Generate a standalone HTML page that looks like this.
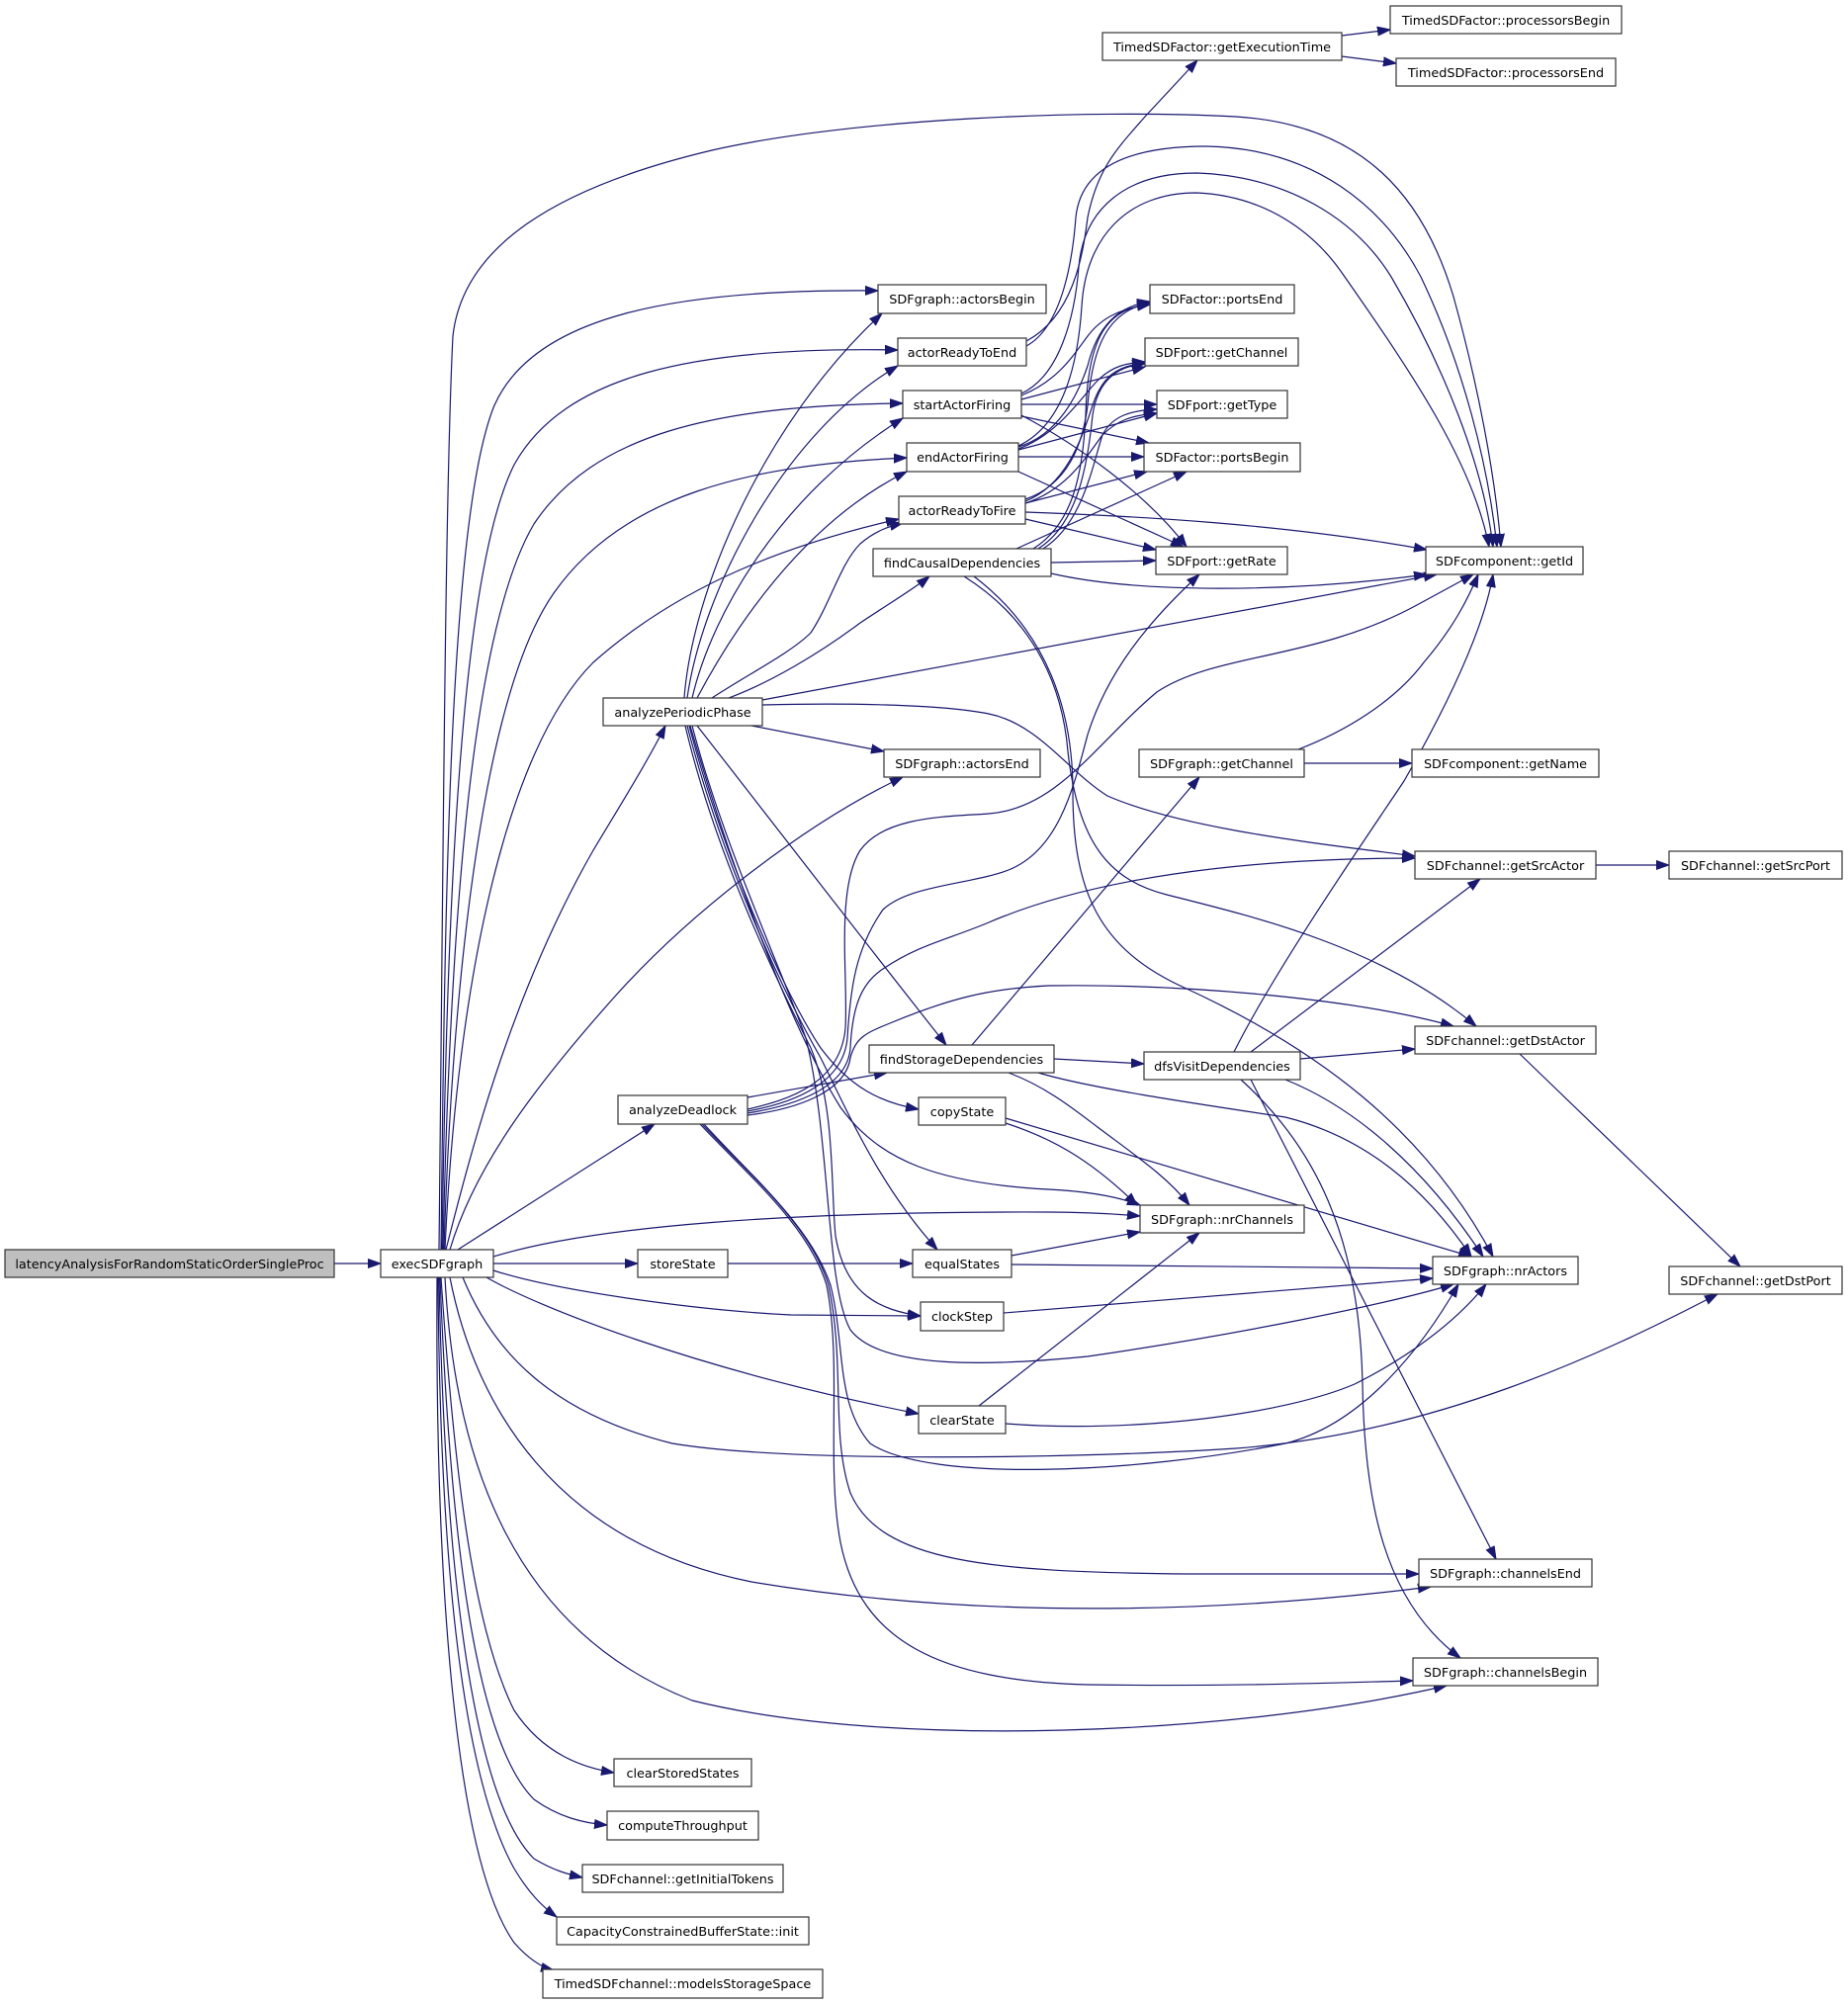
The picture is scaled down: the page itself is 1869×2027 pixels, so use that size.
<!DOCTYPE html>
<html>
<head>
<meta charset="utf-8">
<style>
html,body{margin:0;padding:0;background:#fff;}
svg{display:block;}
.n{fill:#fff;stroke:#333;stroke-width:1.2;}
.g{fill:#bfbfbf;stroke:#333;stroke-width:1.2;}
.t{font-family:"DejaVu Sans","Liberation Sans",sans-serif;font-size:12.8px;fill:#000;text-anchor:middle;}
.e{fill:none;stroke:#191970;stroke-width:1.2;marker-end:url(#a);}
</style>
</head>
<body>
<svg width="1869" height="2027" viewBox="0 0 1869 2027" xmlns="http://www.w3.org/2000/svg">
<defs>
<marker id="a" markerWidth="14" markerHeight="11" refX="13" refY="5" orient="auto" markerUnits="userSpaceOnUse">
<path d="M0,0.5 L13,5 L0,9.5 z" fill="#191970" stroke="#191970" stroke-width="1"/>
</marker>
</defs>
<rect x="0" y="0" width="1869" height="2027" fill="#fff"/>

<!-- edges -->
<path class="e" d="M338,1278 L385,1278"/>
<path class="e" d="M444,1264 C448,900 450,500 458,340 C468,250 560,190 720,152 C860,120 1100,110 1250,118 C1380,126 1440,200 1470,300 C1495,390 1512,480 1518,553"/>
<path class="e" d="M446,1264 C450,900 455,520 500,410 C540,320 680,292 888,294"/>
<path class="e" d="M447,1264 C452,920 465,580 520,470 C570,380 700,350 908,354"/>
<path class="e" d="M448,1264 C455,950 475,640 540,530 C600,440 720,410 913,408"/>
<path class="e" d="M449,1264 C458,980 490,700 560,600 C630,500 760,470 917,463"/>
<path class="e" d="M450,1264 C462,1000 510,760 600,670 C690,590 800,550 909,525"/>
<path class="e" d="M451,1264 C480,1150 520,1000 600,860 C630,810 655,770 673,734"/>
<path class="e" d="M455,1264 C480,1180 540,1100 620,1010 C700,920 820,830 913,786"/>
<path class="e" d="M463,1264 L662,1137"/>
<path class="e" d="M499,1271 C600,1240 800,1225 1060,1226 C1100,1226 1130,1228 1153,1230"/>
<path class="e" d="M499,1278 L645,1278"/>
<path class="e" d="M499,1285 C560,1305 700,1325 800,1330 L931,1331"/>
<path class="e" d="M492,1292 C540,1320 700,1385 929,1430"/>
<path class="e" d="M468,1292 C500,1370 560,1430 680,1460 C800,1480 1100,1475 1250,1465 C1450,1450 1620,1370 1737,1309"/>
<path class="e" d="M455,1292 C480,1420 560,1560 760,1600 C1000,1640 1250,1630 1447,1605"/>
<path class="e" d="M450,1292 C460,1480 520,1650 700,1720 C900,1770 1250,1755 1463,1705"/>
<path class="e" d="M446,1292 C460,1500 480,1650 520,1730 C550,1775 590,1788 621,1793"/>
<path class="e" d="M445,1292 C455,1550 480,1760 540,1820 C565,1838 590,1844 614,1846"/>
<path class="e" d="M444,1292 C450,1600 480,1820 540,1880 C560,1892 575,1896 589,1899"/>
<path class="e" d="M443,1292 C445,1600 470,1800 520,1890 C535,1915 548,1928 563,1939"/>
<path class="e" d="M442,1292 C440,1600 460,1880 520,1965 C535,1982 548,1990 560,1993"/>

<path class="e" d="M692,706 C700,600 770,430 892,317"/>
<path class="e" d="M695,706 C710,600 790,440 908,370"/>
<path class="e" d="M700,706 C720,620 790,500 913,423"/>
<path class="e" d="M705,706 C740,640 810,530 917,477"/>
<path class="e" d="M720,706 C760,680 800,660 820,640 C840,610 850,570 870,550 C885,537 900,532 913,529"/>
<path class="e" d="M737,706 C780,690 830,660 870,630 C900,610 925,595 940,583"/>
<path class="e" d="M771,708 L1453,581"/>
<path class="e" d="M771,713 C850,711 950,712 1000,722 C1050,732 1080,780 1120,805 C1200,840 1350,855 1431,866"/>
<path class="e" d="M760,734 L894,760"/>
<path class="e" d="M705,734 C780,830 880,960 957,1057"/>
<path class="e" d="M697,734 C730,860 790,1000 830,1060 C860,1100 890,1115 929,1122"/>
<path class="e" d="M695,734 C730,870 790,1000 830,1070 C860,1130 890,1200 948,1264"/>
<path class="e" d="M693,734 C725,870 790,1000 820,1060 C845,1120 840,1200 845,1250 C855,1310 890,1325 931,1331"/>
<path class="e" d="M698,734 C740,880 800,1040 850,1120 C890,1175 950,1197 1060,1203 C1100,1205 1130,1210 1153,1219"/>
<path class="e" d="M700,734 C730,850 790,980 815,1050 C840,1150 835,1300 860,1345 C890,1385 1000,1382 1100,1372 C1250,1350 1400,1320 1470,1299"/>

<path class="e" d="M1038,345 C1085,320 1095,260 1100,220 C1110,170 1130,150 1158,118 L1211,61"/>
<path class="e" d="M1357,36 L1406,30"/>
<path class="e" d="M1357,57 L1412,64"/>
<path class="e" d="M1038,350 C1075,330 1085,260 1088,220 C1093,170 1140,148 1220,148 C1330,150 1400,210 1437,280 C1480,370 1505,470 1514,553"/>
<path class="e" d="M1033,398 C1072,380 1087,320 1091,270 C1096,210 1140,175 1210,175 C1300,178 1370,220 1407,280 C1460,370 1500,470 1510,553"/>
<path class="e" d="M1030,451 C1075,430 1090,370 1094,310 C1098,240 1140,195 1210,195 C1280,198 1330,235 1360,280 C1430,380 1490,470 1506,553"/>

<path class="e" d="M1033,400 C1070,385 1085,360 1100,340 C1115,320 1135,312 1163,308"/>
<path class="e" d="M1033,404 L1158,371"/>
<path class="e" d="M1033,409 L1170,409"/>
<path class="e" d="M1033,421 L1162,448"/>
<path class="e" d="M1033,420 C1090,450 1160,500 1200,553"/>

<path class="e" d="M1030,452 C1070,440 1090,400 1100,370 C1110,330 1130,310 1163,305"/>
<path class="e" d="M1030,454 C1070,440 1095,400 1110,385 C1125,370 1140,367 1158,366"/>
<path class="e" d="M1030,455 L1170,418"/>
<path class="e" d="M1030,462 L1157,462"/>
<path class="e" d="M1030,477 L1197,553"/>

<path class="e" d="M1037,505 C1080,490 1095,450 1100,410 C1105,350 1120,315 1163,306"/>
<path class="e" d="M1037,507 C1080,490 1095,440 1105,410 C1115,380 1130,370 1158,367"/>
<path class="e" d="M1037,509 C1080,495 1100,460 1115,440 C1130,425 1145,420 1170,418"/>
<path class="e" d="M1037,509 L1160,477"/>
<path class="e" d="M1037,525 L1169,556"/>
<path class="e" d="M1037,518 C1150,522 1300,530 1443,556"/>

<path class="e" d="M1045,555 C1085,530 1095,480 1098,420 C1100,340 1120,312 1163,308"/>
<path class="e" d="M1050,555 C1090,530 1100,470 1105,420 C1110,385 1130,370 1158,368"/>
<path class="e" d="M1055,555 C1095,530 1105,470 1115,440 C1125,420 1145,415 1170,414"/>
<path class="e" d="M1028,555 L1200,477"/>
<path class="e" d="M1063,569 L1169,567"/>
<path class="e" d="M1063,580 C1150,600 1300,600 1443,581"/>
<path class="e" d="M975,583 C1050,630 1075,700 1080,760 C1090,850 1120,890 1180,905 C1280,930 1400,960 1493,1038"/>
<path class="e" d="M985,583 C1060,640 1085,720 1085,800 C1085,900 1110,960 1200,1000 C1330,1060 1440,1140 1510,1271"/>

<path class="e" d="M756,1110 L897,1085"/>
<path class="e" d="M756,1122 C800,1112 850,1095 855,1040 C858,990 845,900 870,860 C895,825 960,826 1000,823 C1070,818 1110,750 1170,700 C1230,660 1330,668 1433,612 L1490,581"/>
<path class="e" d="M756,1124 C805,1115 853,1095 857,1050 C860,1000 865,960 893,920 C920,895 980,895 1020,880 C1070,860 1085,800 1100,743 C1120,680 1160,630 1213,581"/>
<path class="e" d="M756,1126 C805,1118 857,1100 860,1060 C862,1020 870,995 893,980 C930,955 960,950 1000,933 C1100,890 1250,868 1431,868"/>
<path class="e" d="M756,1128 C805,1122 855,1105 860,1070 C865,1050 875,1045 900,1035 C960,1010 1000,1000 1060,997 C1200,995 1370,1010 1470,1038"/>
<path class="e" d="M712,1137 C760,1190 820,1240 840,1300 C855,1360 845,1420 880,1460 C940,1500 1150,1490 1300,1460 C1380,1440 1440,1360 1475,1299"/>
<path class="e" d="M710,1137 C760,1190 820,1240 838,1300 C855,1380 840,1450 860,1510 C890,1580 1000,1590 1200,1592 L1435,1592"/>
<path class="e" d="M708,1137 C758,1190 818,1240 836,1300 C852,1380 835,1480 850,1560 C870,1660 950,1700 1100,1704 C1250,1706 1350,1702 1429,1700"/>

<path class="e" d="M1066,1071 L1157,1076"/>
<path class="e" d="M983,1057 L1213,786"/>
<path class="e" d="M1020,1085 C1060,1100 1090,1125 1110,1140 C1150,1170 1180,1190 1203,1219"/>
<path class="e" d="M1050,1085 C1100,1100 1200,1115 1300,1130 C1380,1150 1440,1200 1488,1271"/>

<path class="e" d="M1319,772 L1428,772"/>
<path class="e" d="M1313,758 C1360,740 1410,710 1440,670 C1470,635 1485,605 1495,581"/>
<path class="e" d="M1614,875 L1688,875"/>
<path class="e" d="M1537,1066 L1760,1281"/>

<path class="e" d="M1248,1064 C1290,980 1380,850 1420,790 C1460,720 1500,640 1510,581"/>
<path class="e" d="M1265,1064 L1497,889"/>
<path class="e" d="M1315,1071 L1431,1061"/>
<path class="e" d="M1300,1092 C1370,1120 1440,1180 1500,1271"/>
<path class="e" d="M1265,1092 L1513,1577"/>
<path class="e" d="M1255,1092 C1330,1160 1375,1250 1378,1400 C1380,1520 1400,1620 1477,1677"/>

<path class="e" d="M1017,1136 C1060,1150 1100,1170 1150,1219"/>
<path class="e" d="M1017,1131 L1488,1271"/>
<path class="e" d="M1023,1270 L1153,1246"/>
<path class="e" d="M1023,1279 L1449,1283"/>
<path class="e" d="M736,1278 L923,1278"/>
<path class="e" d="M1015,1328 L1449,1293"/>
<path class="e" d="M990,1422 L1213,1247"/>
<path class="e" d="M1017,1440 C1150,1450 1300,1430 1370,1400 C1420,1375 1470,1340 1503,1299"/>

<!-- nodes -->
<rect class="g" x="5" y="1264" width="333" height="28"/><text class="t" x="171.5" y="1283">latencyAnalysisForRandomStaticOrderSingleProc</text>
<rect class="n" x="385" y="1264" width="114" height="28"/><text class="t" x="442" y="1283">execSDFgraph</text>
<rect class="n" x="1115" y="33" width="242" height="28"/><text class="t" x="1236" y="52">TimedSDFactor::getExecutionTime</text>
<rect class="n" x="1406" y="6" width="234" height="28"/><text class="t" x="1523" y="25">TimedSDFactor::processorsBegin</text>
<rect class="n" x="1412" y="59" width="222" height="28"/><text class="t" x="1523" y="78">TimedSDFactor::processorsEnd</text>
<rect class="n" x="888" y="288" width="170" height="29"/><text class="t" x="973" y="307">SDFgraph::actorsBegin</text>
<rect class="n" x="908" y="342" width="130" height="28"/><text class="t" x="973" y="361">actorReadyToEnd</text>
<rect class="n" x="913" y="395" width="120" height="28"/><text class="t" x="973" y="414">startActorFiring</text>
<rect class="n" x="917" y="448" width="113" height="29"/><text class="t" x="973.5" y="467">endActorFiring</text>
<rect class="n" x="909" y="502" width="128" height="28"/><text class="t" x="973" y="521">actorReadyToFire</text>
<rect class="n" x="883" y="555" width="180" height="28"/><text class="t" x="973" y="574">findCausalDependencies</text>
<rect class="n" x="1163" y="288" width="146" height="29"/><text class="t" x="1236" y="307">SDFactor::portsEnd</text>
<rect class="n" x="1158" y="342" width="155" height="28"/><text class="t" x="1235.5" y="361">SDFport::getChannel</text>
<rect class="n" x="1170" y="395" width="132" height="28"/><text class="t" x="1236" y="414">SDFport::getType</text>
<rect class="n" x="1157" y="448" width="158" height="29"/><text class="t" x="1236" y="467">SDFactor::portsBegin</text>
<rect class="n" x="1169" y="553" width="133" height="28"/><text class="t" x="1235.5" y="572">SDFport::getRate</text>
<rect class="n" x="1442" y="553" width="159" height="28"/><text class="t" x="1521.5" y="572">SDFcomponent::getId</text>
<rect class="n" x="610" y="706" width="161" height="28"/><text class="t" x="690.5" y="725">analyzePeriodicPhase</text>
<rect class="n" x="894" y="758" width="158" height="28"/><text class="t" x="973" y="777">SDFgraph::actorsEnd</text>
<rect class="n" x="1152" y="758" width="167" height="28"/><text class="t" x="1235.5" y="777">SDFgraph::getChannel</text>
<rect class="n" x="1428" y="758" width="189" height="28"/><text class="t" x="1522.5" y="777">SDFcomponent::getName</text>
<rect class="n" x="1431" y="861" width="183" height="28"/><text class="t" x="1522.5" y="880">SDFchannel::getSrcActor</text>
<rect class="n" x="1688" y="861" width="175" height="28"/><text class="t" x="1775.5" y="880">SDFchannel::getSrcPort</text>
<rect class="n" x="1431" y="1038" width="183" height="28"/><text class="t" x="1522.5" y="1057">SDFchannel::getDstActor</text>
<rect class="n" x="879" y="1057" width="187" height="28"/><text class="t" x="972.5" y="1076">findStorageDependencies</text>
<rect class="n" x="1157" y="1064" width="158" height="28"/><text class="t" x="1236" y="1083">dfsVisitDependencies</text>
<rect class="n" x="625" y="1108" width="131" height="29"/><text class="t" x="690.5" y="1127">analyzeDeadlock</text>
<rect class="n" x="929" y="1110" width="88" height="28"/><text class="t" x="973" y="1129">copyState</text>
<rect class="n" x="1153" y="1219" width="166" height="28"/><text class="t" x="1236" y="1238">SDFgraph::nrChannels</text>
<rect class="n" x="645" y="1264" width="91" height="28"/><text class="t" x="690.5" y="1283">storeState</text>
<rect class="n" x="923" y="1264" width="100" height="28"/><text class="t" x="973" y="1283">equalStates</text>
<rect class="n" x="1449" y="1271" width="147" height="28"/><text class="t" x="1522.5" y="1290">SDFgraph::nrActors</text>
<rect class="n" x="1688" y="1281" width="175" height="28"/><text class="t" x="1775.5" y="1300">SDFchannel::getDstPort</text>
<rect class="n" x="931" y="1317" width="84" height="29"/><text class="t" x="973" y="1336">clockStep</text>
<rect class="n" x="929" y="1422" width="88" height="28"/><text class="t" x="973" y="1441">clearState</text>
<rect class="n" x="1435" y="1577" width="175" height="28"/><text class="t" x="1522.5" y="1596">SDFgraph::channelsEnd</text>
<rect class="n" x="1429" y="1677" width="187" height="28"/><text class="t" x="1522.5" y="1696">SDFgraph::channelsBegin</text>
<rect class="n" x="621" y="1779" width="139" height="28"/><text class="t" x="690.5" y="1798">clearStoredStates</text>
<rect class="n" x="614" y="1832" width="153" height="29"/><text class="t" x="690.5" y="1851">computeThroughput</text>
<rect class="n" x="589" y="1886" width="203" height="28"/><text class="t" x="690.5" y="1905">SDFchannel::getInitialTokens</text>
<rect class="n" x="563" y="1939" width="255" height="28"/><text class="t" x="690.5" y="1958">CapacityConstrainedBufferState::init</text>
<rect class="n" x="549" y="1992" width="283" height="29"/><text class="t" x="690.5" y="2011">TimedSDFchannel::modelsStorageSpace</text>
</svg>
</body>
</html>
